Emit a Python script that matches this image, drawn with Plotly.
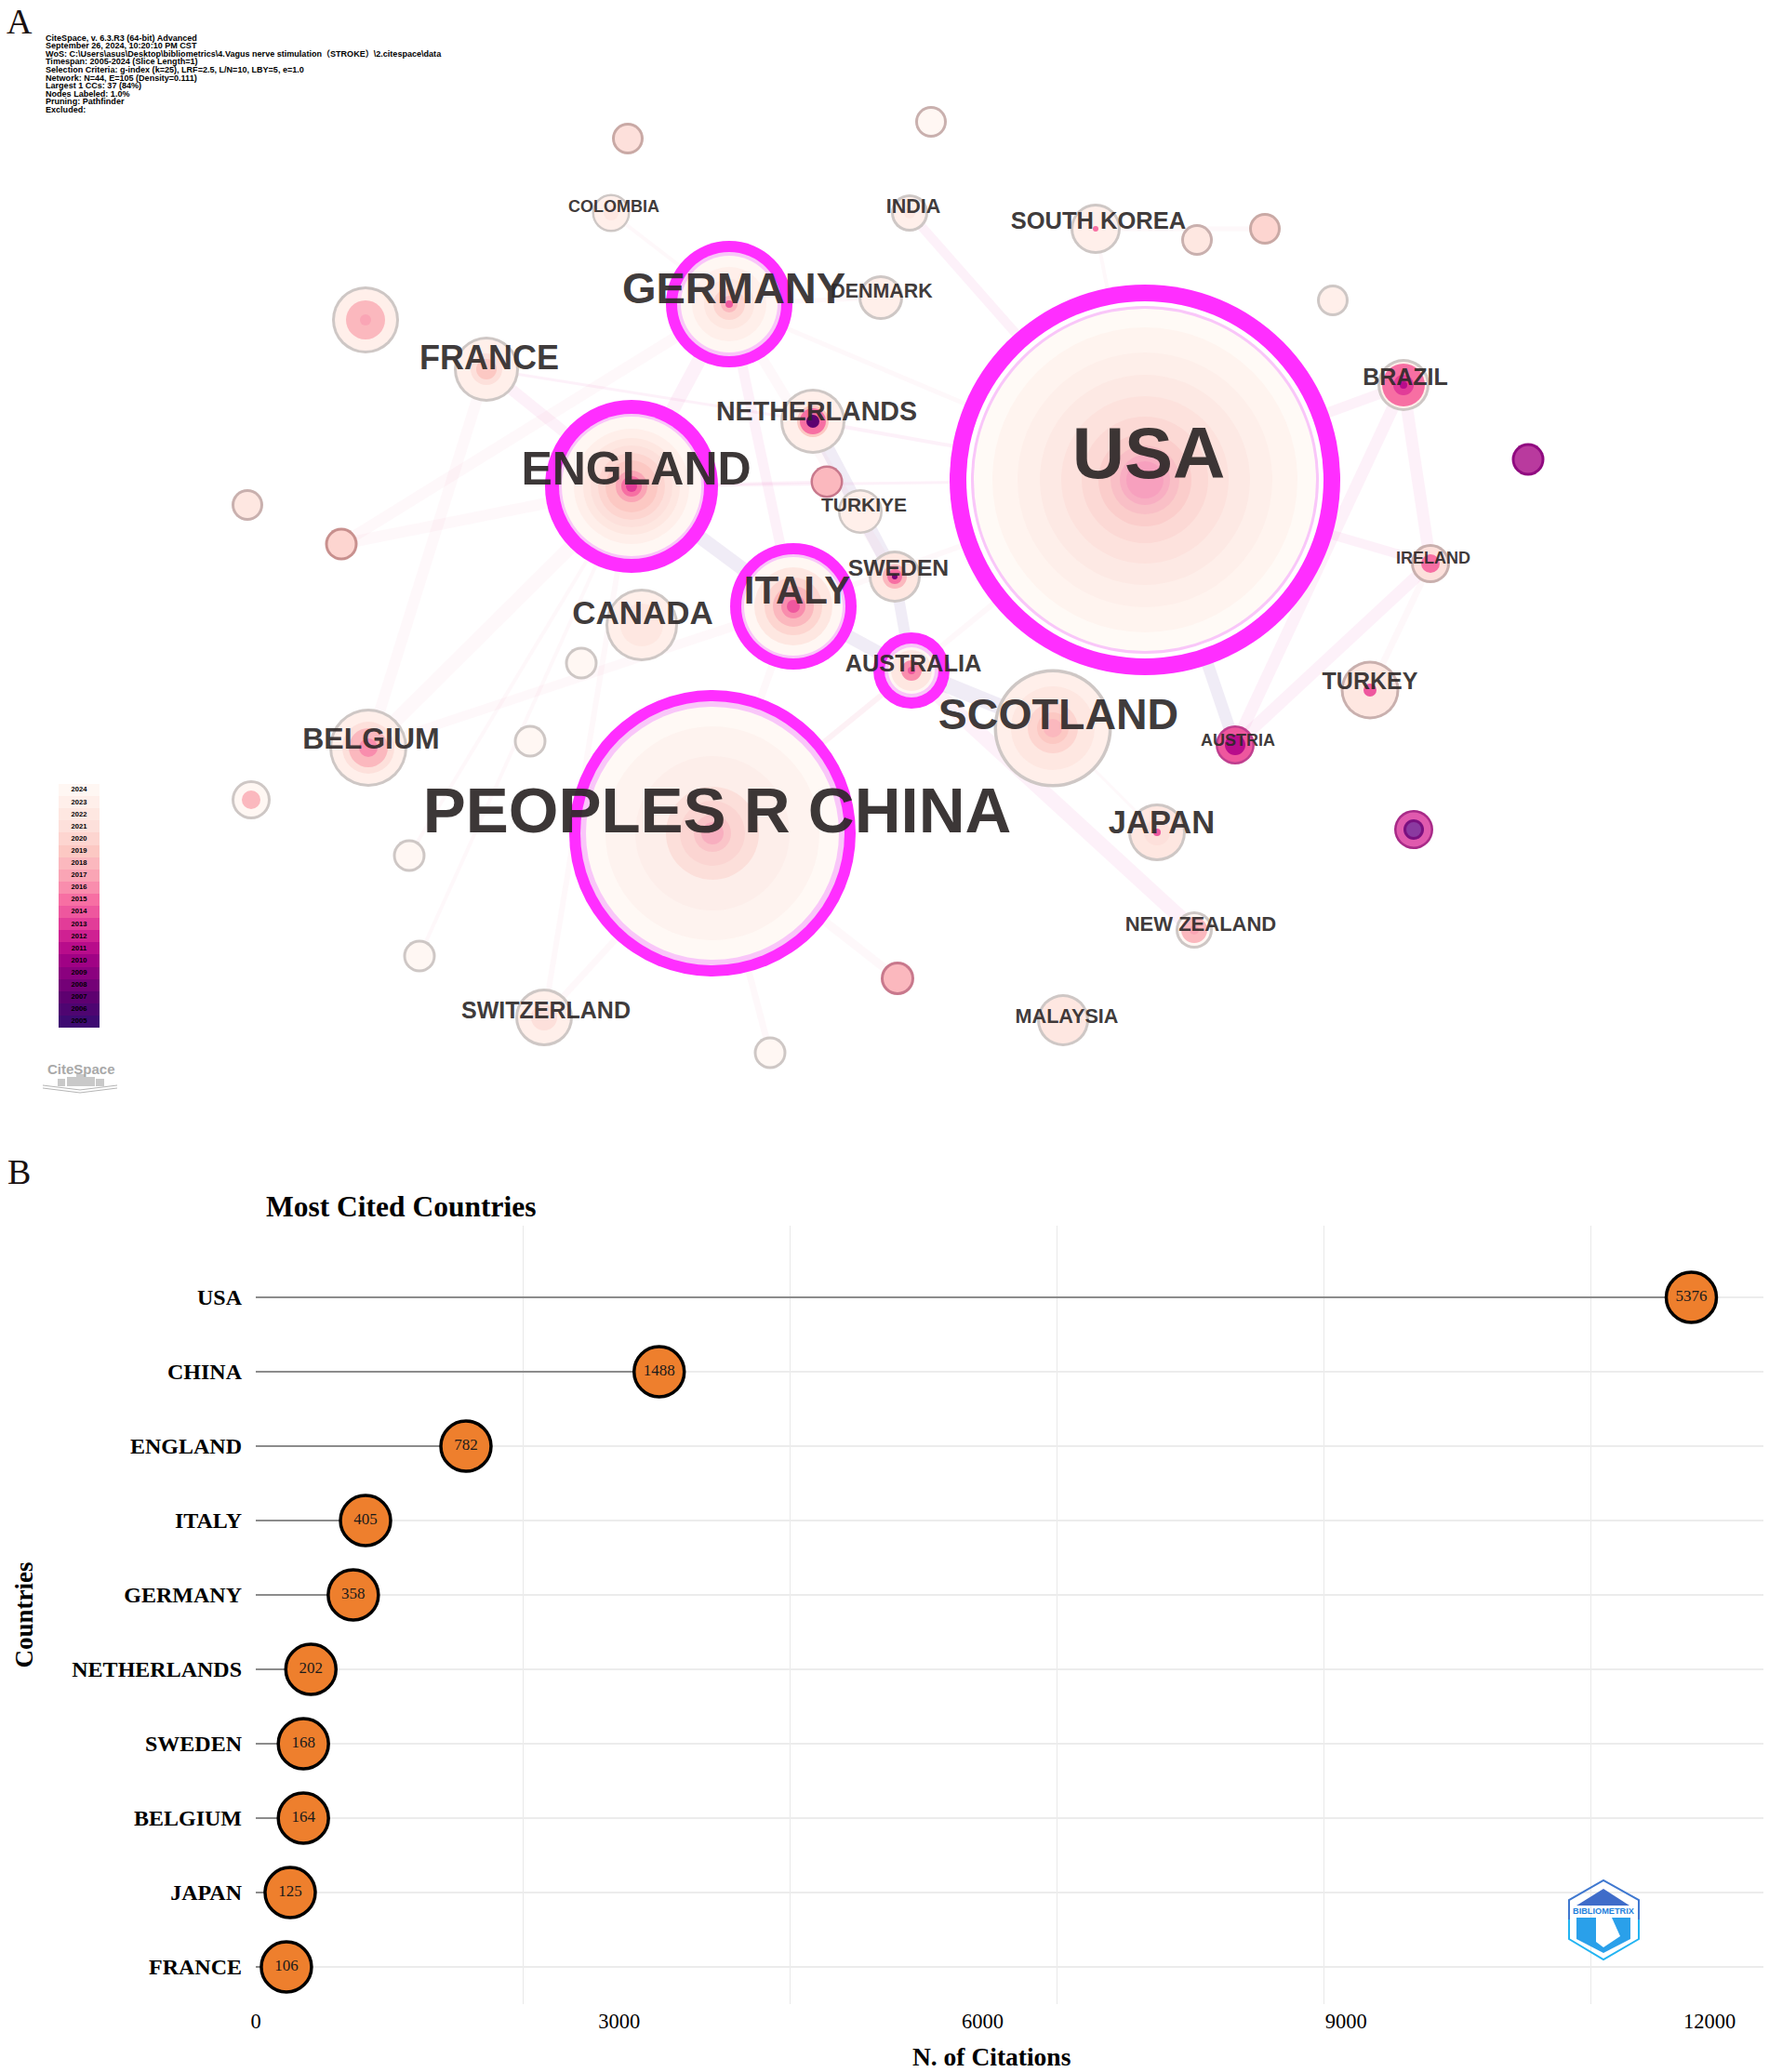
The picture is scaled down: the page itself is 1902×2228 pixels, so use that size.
import plotly.graph_objects as go

W = 1902
H = 2228
NET_H = 1240

SANS = "Liberation Sans, Arial, Noto Sans CJK SC"
SERIF = "Liberation Serif, Times New Roman, serif"

info_lines = [
    "CiteSpace, v. 6.3.R3 (64-bit) Advanced",
    "September 26, 2024, 10:20:10 PM CST",
    "WoS: C:\\Users\\asus\\Desktop\\bibliometrics\\4.Vagus nerve stimulation（STROKE）\\2.citespace\\data",
    "Timespan: 2005-2024 (Slice Length=1)",
    "Selection Criteria: g-index (k=25), LRF=2.5, L/N=10, LBY=5, e=1.0",
    "Network: N=44, E=105 (Density=0.111)",
    "Largest 1 CCs: 37 (84%)",
    "Nodes Labeled: 1.0%",
    "Pruning: Pathfinder",
    "Excluded:",
]

legend_years = [2005, 2006, 2007, 2008, 2009, 2010, 2011, 2012, 2013, 2014,
                2015, 2016, 2017, 2018, 2019, 2020, 2021, 2022, 2023, 2024]
legend_colors = ["#3E0A72", "#4E0571", "#5E0070", "#740177", "#8B017F", "#A00285", "#B80C8B", "#CF2192",
                 "#E23C98", "#EE579E", "#F76FA3", "#F98DAD", "#FAA5B5", "#FBB8BE", "#FCC8C3", "#FDD5D0",
                 "#FDE0DB", "#FEE7E1", "#FFEFEA", "#FFF7F3"]
ring_colors = dict(zip(legend_years, legend_colors))
ring_colors.update({"b": "#FF2EFF", "p": "#F9C6F9", "w": "#FFFFFF", "g": "#CEC7C5"})

node_ids = ["USA", "CHINA", "ENGLAND", "GERMANY", "ITALY", "AUSTRALIA", "SCOTLAND", "NETHERLANDS", "n888", "TURKIYE",
            "SWEDEN", "CANADA", "n624", "DENMARK", "FRANCE", "COLOMBIA", "INDIA", "KOREA", "n1286", "n1359",
            "n1432", "BRAZIL", "n1642", "IRELAND", "TURKEY", "AUSTRIA", "JAPAN", "n1519", "NZ", "n964",
            "MALAYSIA", "n827", "SWITZERLAND", "n450", "n439", "n269", "BELGIUM", "n569", "n366", "n265",
            "n392", "n674", "n1000"]
node_x = [1231, 766, 679, 784, 853, 980, 1132, 874, 889, 925,
          962, 690, 625, 947, 523, 657, 978, 1178, 1287, 1360,
          1433, 1509, 1643, 1538, 1473, 1328, 1244, 1520, 1284, 965,
          1143, 828, 585, 451, 440, 270, 396, 570, 367, 266,
          393, 675, 1001]
node_y = [516, 896, 523, 327, 652, 721, 783, 453, 518, 550,
          620, 672, 713, 320, 397, 229, 229, 246, 258, 246,
          323, 414, 494, 606, 742, 801, 895, 892, 1000, 1052,
          1097, 1132, 1094, 1028, 920, 860, 804, 797, 585, 543,
          344, 149, 131]
# tree rings of each node, outer to inner: radius and year (or border key)
node_ring_r = [
    [210, 192, 187, 184, 164, 137, 113, 90, 68, 50, 37, 27, 20],
    [154, 142, 136, 115, 83, 50, 35, 20, 12],
    [93, 78, 75, 62, 52, 44, 36, 28, 17, 11, 6],
    [68, 56, 52, 40, 27, 17, 9, 4],
    [68, 56, 53, 42, 31, 22, 13, 7],
    [41, 29, 25, 22, 11, 4],
    [63.5, 60, 45, 27, 17, 10],
    [35, 32, 17, 14, 7],
    [17.5, 15],
    [24, 21.5],
    [28, 25, 13, 8, 3],
    [39, 36, 23],
    [17.5, 14.5],
    [24, 21],
    [35, 32, 17, 11],
    [20.5, 18, 8],
    [20, 17, 6],
    [27, 24, 3],
    [17, 14],
    [17, 14],
    [17, 14],
    [28, 25, 23, 11, 4],
    [17.5, 14.5],
    [21, 18, 10],
    [31.5, 28.5, 7],
    [21, 18.5, 11],
    [31, 28, 14, 4],
    [21, 18.5, 11, 8],
    [20, 17, 14, 5],
    [18, 15],
    [28, 25],
    [17.5, 14.5],
    [31, 28, 14],
    [17.5, 14.5],
    [17.5, 14.5],
    [21, 18, 10],
    [42, 39, 28, 21, 10],
    [17.5, 14.5],
    [17.5, 14.5],
    [17, 14],
    [36, 33, 21, 6],
    [17, 14],
    [17, 14],
]
node_ring_key = [
    ["b", "w", "p", "#FFFAF6", "#FFF4EF", "#FEEFEA", "#FDE9E4", "#FDE2DD", "#FCD9D5", "#FBCDCB", "#F9BFC6", "#F8AEC2", "#F7A0BE"],
    ["b", "p", "#FFF9F5", "#FEF3EF", "#FDEEEA", "#FCDFDA", "#FBD5D2", "#FAC4C8", "#F8AEBF"],
    ["b", "p", 2024, 2023, 2022, 2021, 2020, 2019, 2017, 2015, 2013],
    ["b", "p", 2024, 2023, 2022, 2020, 2018, 2014],
    ["b", "p", 2024, 2022, 2020, 2018, 2016, 2014],
    ["b", "p", 2024, 2022, 2016, 2014],
    ["g", 2023, 2022, 2020, 2019, 2018],
    ["g", 2023, 2019, 2015, 2007],
    ["#C8788C", 2018],
    ["g", 2023],
    ["g", 2022, 2018, 2015, 2008],
    ["g", 2023, 2022],
    ["g", 2024],
    ["g", 2023],
    ["g", 2023, 2021, 2019],
    ["g", 2023, 2022],
    ["g", 2023, 2022],
    ["g", 2023, 2015],
    ["#C9B0AE", 2022],
    ["#C9A9A5", 2020],
    ["g", 2023],
    ["g", 2023, 2015, 2013, 2011],
    ["#900A80", "#B93A9E"],
    ["#C9B0AE", 2021, 2015],
    ["#C9B0AE", 2022, 2014],
    ["#BF3F8F", 2014, 2011],
    ["g", 2022, 2021, 2014],
    ["#A82A88", "#E05AAE", "#7A1080", "#8A3AA0"],
    ["g", 2024, 2018, 2017],
    ["#C8788C", 2018],
    ["g", 2022],
    ["g", 2024],
    ["g", 2023, 2021],
    ["g", 2024],
    ["g", 2024],
    ["g", 2024, 2018],
    ["g", 2023, 2021, 2018, 2016],
    ["g", 2024],
    ["#C8908E", 2020],
    ["#C9B0AE", 2022],
    ["g", 2023, 2018, 2017],
    ["#C9A9A5", 2021],
    ["#C9B0AE", 2024],
]

edge_from = ["ENGLAND", "ITALY", "AUSTRALIA", "NETHERLANDS", "USA", "BRAZIL", "IRELAND", "BRAZIL", "BRAZIL", "USA",
             "AUSTRALIA", "GERMANY", "GERMANY", "GERMANY", "INDIA", "KOREA", "COLOMBIA", "FRANCE", "FRANCE", "ENGLAND",
             "NETHERLANDS", "ENGLAND", "BELGIUM", "BELGIUM", "n366", "BELGIUM", "SWITZERLAND", "SWITZERLAND", "CHINA", "CHINA",
             "CHINA", "CHINA", "CHINA", "USA", "USA", "DENMARK", "n439", "n450", "n888", "SCOTLAND",
             "KOREA", "SWEDEN", "IRELAND"]
edge_to = ["ITALY", "AUSTRALIA", "SCOTLAND", "SWEDEN", "AUSTRIA", "AUSTRIA", "AUSTRIA", "IRELAND", "USA", "IRELAND",
           "NZ", "ITALY", "SWEDEN", "ENGLAND", "USA", "n1359", "GERMANY", "ENGLAND", "NETHERLANDS", "USA",
           "USA", "n366", "ENGLAND", "FRANCE", "GERMANY", "ITALY", "CHINA", "ENGLAND", "n964", "n827",
           "ITALY", "AUSTRALIA", "USA", "ITALY", "GERMANY", "GERMANY", "ENGLAND", "ENGLAND", "ENGLAND", "JAPAN",
           "USA", "AUSTRALIA", "TURKEY"]
edge_width = [15, 14, 17, 15, 13, 13, 13, 13, 11, 10,
              16, 11, 11, 15, 10, 5, 4, 12, 3, 3,
              4, 12, 15, 12, 12, 10, 7, 6, 9, 7,
              8, 6, 6, 6, 5, 5, 4, 4, 3, 3,
              4, 12, 7]
edge_color = ["lav", "lav", "lav", "lav", "lav", "pink", "pink", "pink", "pink", "pink",
              "pink", "pink", "pale", "pink", "pink", "pale", "pale", "pink", "pink", "pink",
              "pink", "pale", "pale", "pale", "pale", "pale", "pale", "pale", "pale", "pale",
              "pale", "pale", "pale", "pale", "pale", "pale", "pale", "pale", "pink", "pale",
              "pale", "lav", "pale"]
edge_rgba = {"lav": "rgba(140,110,185,0.13)", "pink": "rgba(238,130,200,0.11)", "pale": "rgba(245,170,190,0.08)"}

label_text = ["USA", "PEOPLES R CHINA", "ENGLAND", "GERMANY", "ITALY", "SCOTLAND", "FRANCE", "CANADA", "NETHERLANDS",
              "DENMARK", "TURKIYE", "SWEDEN", "AUSTRALIA", "BELGIUM", "JAPAN", "SOUTH KOREA", "BRAZIL", "IRELAND",
              "TURKEY", "AUSTRIA", "NEW ZEALAND", "MALAYSIA", "SWITZERLAND", "COLOMBIA", "INDIA"]
label_x = [1235, 771, 684, 789, 857, 1138, 526, 691, 878,
           948, 929, 966, 982, 399, 1249, 1181, 1511, 1541,
           1473, 1331, 1291, 1147, 587, 660, 982]
label_y = [489, 873, 505, 311, 636, 769, 385, 660, 443,
           313, 543, 611, 714, 795, 885, 238, 406, 600,
           733, 796, 994, 1093, 1087, 222, 222]
label_size = [78, 69, 50, 47, 42, 46.5, 36, 35, 28.6,
              21.4, 21, 24.7, 25.4, 32, 34.5, 25.5, 25, 18,
              25, 18, 22, 21.6, 25, 18, 21.5]

# panel B: most cited countries
countries = ["USA", "CHINA", "ENGLAND", "ITALY", "GERMANY", "NETHERLANDS", "SWEDEN", "BELGIUM", "JAPAN", "FRANCE"]
citations = [11850, 3330, 1735, 906, 805, 455, 393, 393, 284, 253]
dot_labels = ["5376", "1488", "782", "405", "358", "202", "168", "164", "125", "106"]
x_ticks = [0, 3000, 6000, 9000, 12000]
x_grid = [0, 2204, 4407, 6611, 8814, 11018]


def px(v):
    return v / W


def py(v):
    return 1 - v / H


def poly(points):
    return "M " + " L ".join(f"{px(a):.5f},{py(b):.5f}" for a, b in points) + " Z"


def line_path(points):
    return "M " + " L ".join(f"{px(a):.5f},{py(b):.5f}" for a, b in points)


fig = go.Figure()

# edges go under the nodes
pos = {n: (x, y) for n, x, y in zip(node_ids, node_x, node_y)}
for a, b, w, c in zip(edge_from, edge_to, edge_width, edge_color):
    fig.add_trace(go.Scatter(x=[pos[a][0], pos[b][0]], y=[pos[a][1], pos[b][1]], mode="lines",
                             line=dict(color=edge_rgba[c], width=w), hoverinfo="skip", showlegend=False,
                             xaxis="x2", yaxis="y2"))

disc_x, disc_y, disc_size, disc_color = [], [], [], []
for x, y, rr, kk in zip(node_x, node_y, node_ring_r, node_ring_key):
    for r, k in zip(rr, kk):
        disc_x.append(x)
        disc_y.append(y)
        disc_size.append(2 * r)
        disc_color.append(ring_colors.get(k, k))
fig.add_trace(go.Scatter(x=disc_x, y=disc_y, mode="markers",
                         marker=dict(size=disc_size, color=disc_color, opacity=1, line=dict(width=0)),
                         hoverinfo="skip", showlegend=False, xaxis="x2", yaxis="y2"))

# svg text sits a little high for its middle, so nudge by the font size
fig.add_trace(go.Scatter(x=label_x, y=[v + 0.07 * s for v, s in zip(label_y, label_size)], mode="text",
                         text=label_text, textposition="middle center",
                         textfont=dict(family=SANS, size=label_size, color="rgba(45,40,40,0.93)", weight="bold"),
                         hoverinfo="skip", showlegend=False, xaxis="x2", yaxis="y2"))

# year legend
fig.add_trace(go.Heatmap(z=[[v] for v in legend_years], x=[0], y=[str(v) for v in legend_years],
                         zmin=2005, zmax=2024, showscale=False, hoverinfo="skip",
                         colorscale=[[(v - 2005) / 19, c] for v, c in zip(legend_years, legend_colors)],
                         xaxis="x3", yaxis="y3"))
fig.add_trace(go.Scatter(x=[0] * 20, y=[str(v) for v in legend_years], mode="text",
                         text=[str(v) for v in legend_years], textposition="middle center",
                         textfont=dict(family=SANS, size=7.6, color="black", weight="bold"),
                         hoverinfo="skip", showlegend=False, xaxis="x3", yaxis="y3"))

# lollipops
seg_x, seg_y = [], []
for c, v in zip(countries, citations):
    seg_x += [0, v, None]
    seg_y += [c, c, None]
fig.add_trace(go.Scatter(x=seg_x, y=seg_y, mode="lines", line=dict(color="#8C8C8C", width=2),
                         hoverinfo="skip", showlegend=False))
fig.add_trace(go.Scatter(x=citations, y=countries, mode="markers+text", text=dot_labels,
                         textposition="middle center",
                         textfont=dict(family=SERIF, size=17, color="#1A1A1A"),
                         marker=dict(size=54, color="#EE7F2D", line=dict(color="black", width=3.5)),
                         showlegend=False))

annotations = []
for i, line in enumerate(info_lines):
    annotations.append(dict(xref="paper", yref="paper", x=px(47), y=py(40.5 + i * 8.6), text=line, showarrow=False,
                            xanchor="left", yanchor="middle", align="left",
                            font=dict(family=SANS, size=9.05, color="black", weight="bold")))
annotations.append(dict(xref="paper", yref="paper", x=px(5), y=py(23), text="A", showarrow=False, xanchor="left",
                        yanchor="middle", font=dict(family=SERIF, size=38, color="#1A1111")))
annotations.append(dict(xref="paper", yref="paper", x=px(6), y=py(1260), text="B", showarrow=False, xanchor="left",
                        yanchor="middle", font=dict(family=SERIF, size=38, color="#1A1111")))
annotations.append(dict(xref="paper", yref="paper", x=px(87), y=py(1149), text="CiteSpace", showarrow=False,
                        xanchor="center", yanchor="middle",
                        font=dict(family=SANS, size=15, color="#A9A9A9", weight="bold")))
annotations.append(dict(xref="paper", yref="paper", x=px(1724), y=py(2055), text="BIBLIOMETRIX", showarrow=False,
                        xanchor="center", yanchor="middle",
                        font=dict(family=SANS, size=9.2, color="#1F7FDC", weight="bold")))
annotations.append(dict(xref="paper", yref="paper", x=px(1066), y=py(2211), text="<b>N. of Citations</b>",
                        showarrow=False, xanchor="center", yanchor="middle",
                        font=dict(family=SERIF, size=27.5, color="black")))

shapes = []
# CiteSpace logo
for x0, x1, top in [(62, 70, 1160), (72, 82, 1158), (82, 92, 1155), (92, 102, 1158), (103, 112, 1160)]:
    shapes.append(dict(type="rect", xref="paper", yref="paper", x0=px(x0), x1=px(x1), y0=py(1168), y1=py(top),
                       fillcolor="#C9C9C9", line=dict(width=0)))
for dy in (0, 3):
    shapes.append(dict(type="path", xref="paper", yref="paper",
                       path=line_path([(46, 1167 + dy), (86, 1172 + dy), (126, 1167 + dy)]),
                       line=dict(color="#B5B5B5", width=1)))
# bibliometrix logo
shapes.append(dict(type="path", xref="paper", yref="paper",
                   path=line_path([(1687, 2064), (1687, 2043), (1724, 2022), (1762, 2043), (1762, 2064)]),
                   line=dict(color="#3F78D0", width=2)))
shapes.append(dict(type="path", xref="paper", yref="paper",
                   path=line_path([(1687, 2064), (1687, 2085), (1724, 2107), (1762, 2085), (1762, 2064)]),
                   line=dict(color="#22B4F2", width=2)))
shapes.append(dict(type="path", xref="paper", yref="paper", path=poly([(1724, 2031), (1752, 2049), (1695, 2049)]),
                   fillcolor="#3F6CC9", line=dict(width=0)))
shapes.append(dict(type="path", xref="paper", yref="paper",
                   path=poly([(1695, 2062), (1753, 2062), (1753, 2085), (1724, 2100), (1695, 2085)]),
                   fillcolor="#2AA0EA", line=dict(width=0)))
shapes.append(dict(type="path", xref="paper", yref="paper",
                   path=poly([(1716, 2062), (1733, 2062), (1742, 2082), (1724, 2094), (1716, 2088)]),
                   fillcolor="white", line=dict(width=0)))

fig.update_layout(
    width=W,
    height=H,
    autosize=False,
    margin=dict(l=0, r=0, t=0, b=0, pad=0),
    paper_bgcolor="white",
    plot_bgcolor="rgba(0,0,0,0)",
    showlegend=False,
    title=dict(text="<b>Most Cited Countries</b>", xref="paper", yref="paper", x=px(286), y=py(1297),
               xanchor="left", yanchor="middle", automargin=False, font=dict(family=SERIF, size=31.5, color="black")),
    annotations=annotations,
    shapes=shapes,
    xaxis=dict(domain=[px(275), px(1896)], range=[0, 12445], showgrid=False, zeroline=False, showline=False,
               automargin=False, tickmode="array", tickvals=x_ticks, ticktext=[str(v) for v in x_ticks], ticks="",
               ticklabelstandoff=2, tickfont=dict(family=SERIF, size=22.5, color="black"),
               minor=dict(tickmode="array", tickvals=x_grid, showgrid=True, gridcolor="#E9E9E9", gridwidth=1, ticks="")),
    yaxis=dict(domain=[py(2155), py(1318)], type="category", categoryorder="array", categoryarray=countries,
               range=[9.5, -0.9625], showgrid=True, gridcolor="#ECECEC", gridwidth=2, zeroline=False, showline=False,
               automargin=False, ticks="", ticklabelstandoff=14,
               tickfont=dict(family=SERIF, size=24, color="black", weight="bold"),
               title=dict(text="<b>Countries</b>", font=dict(family=SERIF, size=27, color="black"), standoff=33)),
    xaxis2=dict(domain=[0, 1], range=[0, W], visible=False, anchor="y2", automargin=False),
    yaxis2=dict(domain=[py(NET_H), 1], range=[NET_H, 0], visible=False, anchor="x2", automargin=False),
    xaxis3=dict(domain=[px(63), px(107)], range=[-0.5, 0.5], visible=False, anchor="y3", automargin=False),
    yaxis3=dict(domain=[py(1105), py(843)], type="category", categoryorder="array", range=[-0.5, 19.5],
                categoryarray=[str(v) for v in legend_years], visible=False, anchor="x3", automargin=False),
)

fig.write_html("out.html", post_script="document.body.style.margin='0';", config={"displayModeBar": False})
